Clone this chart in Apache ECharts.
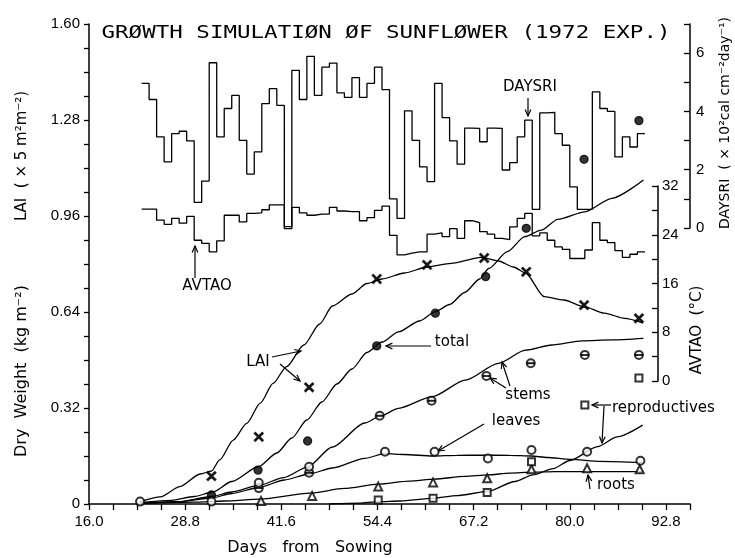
<!DOCTYPE html>
<html>
<head>
<meta charset="utf-8">
<script src="https://cdn.jsdelivr.net/npm/echarts/dist/echarts.min.js"></script>
<style>
html, body { margin: 0; padding: 0; background: #fff; }
#chart { width: 735px; height: 558px; }
</style>
</head>
<body>
<div id="chart"></div>
<script>
// daily weather, first value is day 23
var weatherStartDay = 23;
var daysri = [4.96, 4.41, 3.13, 2.27, 3.24, 3.32, 2.99, 0.88, 1.61, 5.67,
              3.13, 4.10, 4.55, 3.01, 1.85, 2.61, 4.27, 4.78, 4.21, 0.05,
              5.41, 4.41, 5.89, 4.55, 5.52, 5.66, 4.64, 4.48, 5.16, 4.48,
              4.96, 5.52, 4.75, 1.00, 0.33, 4.02, 3.01, 2.10, 1.59, 4.96,
              3.79, 2.99, 2.19, 3.43, 3.42, 2.96, 3.43, 3.42, 1.99, 2.24,
              3.13, 3.70, 0.64, 3.95, 3.97, 3.24, 2.84, 1.41, 0.64, 0.64,
              4.67, 4.10, 4.00, 2.44, 3.13, 2.78, 3.24];
var avtao = [28.2, 28.2, 26.4, 25.7, 26.7, 25.9, 27.0, 23.1, 22.6, 21.2,
             23.0, 27.2, 27.2, 26.1, 27.5, 27.6, 28.1, 28.9, 28.9, 25.0,
             28.5, 27.6, 27.2, 27.4, 27.4, 28.5, 27.9, 27.8, 27.8, 26.3,
             26.8, 28.0, 28.7, 23.9, 20.7, 21.0, 21.2, 21.2, 24.1, 24.3,
             23.7, 25.0, 23.4, 26.3, 26.0, 24.5, 24.1, 23.4, 23.2, 25.3,
             26.7, 27.5, 23.8, 24.3, 23.1, 22.0, 21.6, 20.1, 20.1, 21.5,
             26.0, 23.1, 22.7, 21.4, 20.3, 20.8, 21.2];

// simulated curves
var laiDays = [22.8, 25.5, 28.1, 30.8, 32.3, 33.4, 35.2, 37.0, 38.8, 40.5, 42.3, 44.6, 46.7, 48.4, 51, 53, 55, 58, 61, 64.2, 68.2, 70.5, 72.5, 74.1, 76.6, 79.2, 81.9, 84.6, 87.3, 89.7];
var laiVals = [0.008, 0.024, 0.058, 0.10, 0.11, 0.147, 0.213, 0.269, 0.336, 0.402, 0.458, 0.53, 0.60, 0.66, 0.70, 0.735, 0.75, 0.77, 0.79, 0.802, 0.822, 0.81, 0.79, 0.77, 0.691, 0.68, 0.658, 0.636, 0.619, 0.604];
var totalDays = [22.8, 27, 30, 32.5, 35, 38.6, 41, 43, 45, 47, 49, 51, 53, 55, 57.2, 60, 62.1, 64, 66, 68, 69.2, 71.7, 74, 76.2, 78.4, 82, 85.6, 89.8];
var totalVals = [0.004, 0.012, 0.025, 0.04, 0.075, 0.125, 0.17, 0.22, 0.28, 0.34, 0.40, 0.45, 0.505, 0.54, 0.574, 0.61, 0.641, 0.665, 0.705, 0.75, 0.785, 0.841, 0.891, 0.913, 0.949, 0.974, 1.019, 1.08];
var stemDays = [22.8, 28, 32.3, 35, 38.6, 41.9, 45, 48.4, 52.7, 54.7, 57.2, 61.7, 66.1, 70.5, 74.1, 77.6, 81.6, 85.6, 89.8];
var stemVals = [0.002, 0.008, 0.025, 0.04, 0.062, 0.088, 0.122, 0.19, 0.27, 0.292, 0.319, 0.358, 0.413, 0.469, 0.513, 0.53, 0.544, 0.547, 0.552];
var leafDays = [22.8, 28, 32.3, 35, 38.6, 42, 45.3, 48.4, 52.7, 55.4, 58, 61.7, 65, 68.2, 72, 74.9, 77, 80.1, 84, 89.8];
var leafVals = [0.002, 0.008, 0.02, 0.035, 0.055, 0.08, 0.10, 0.12, 0.152, 0.168, 0.165, 0.16, 0.162, 0.163, 0.162, 0.16, 0.155, 0.149, 0.142, 0.138];
var rootDays = [22.8, 30, 34, 38.8, 45.4, 50, 54.5, 58.6, 62, 66, 69.1, 72, 75, 78, 82, 89.8];
var rootVals = [0.001, 0.006, 0.01, 0.016, 0.036, 0.052, 0.066, 0.076, 0.083, 0.092, 0.097, 0.103, 0.106, 0.108, 0.108, 0.108];
var reproDays = [48, 52, 54.5, 57.4, 61.8, 65, 69.1, 72.7, 75.1, 77.8, 80, 83.7, 86.3, 89.7];
var reproVals = [0, 0.003, 0.008, 0.01, 0.019, 0.028, 0.042, 0.075, 0.097, 0.118, 0.145, 0.191, 0.224, 0.263];

// observations [day, value]
var obsLai = [[32.3, 0.093], [38.6, 0.224], [45.3, 0.389], [54.3, 0.75], [61, 0.797], [68.6, 0.82], [74.2, 0.774], [81.9, 0.663], [89.2, 0.619]];
var obsTotal = [[32.3, 0.03], [38.5, 0.113], [45.1, 0.21], [54.3, 0.527], [62.1, 0.636], [68.8, 0.758], [74.2, 0.919], [81.9, 1.149], [89.2, 1.278]];
var obsStems = [[38.6, 0.053], [45.3, 0.104], [54.7, 0.294], [61.6, 0.344], [68.9, 0.427], [74.8, 0.469], [82, 0.497], [89.2, 0.497]];
var obsLeaves = [[22.8, 0.008], [32.3, 0.008], [38.6, 0.071], [45.3, 0.124], [55.4, 0.174], [62, 0.174], [69.1, 0.152], [74.9, 0.18], [82.3, 0.174], [89.4, 0.144]];
var obsRoots = [[38.9, 0.01], [45.7, 0.027], [54.5, 0.058], [61.8, 0.072], [69, 0.086], [74.9, 0.116], [82.3, 0.119], [89.3, 0.116]];
var obsRepro = [[54.5, 0.013], [61.8, 0.019], [69, 0.038], [74.9, 0.141], [82, 0.33], [89.2, 0.42]];

var dom = document.getElementById("chart");
var myChart = echarts.init(dom);

function pairs(days, vals) {
    return days.map(function (d, i) { return [d, vals[i]]; });
}
function steps(vals) {
    var out = vals.map(function (v, i) { return [weatherStartDay + i, v]; });
    out.push([weatherStartDay + vals.length, vals[vals.length - 1]]);
    return out;
}
function curve(data) {
    return { type: 'line', data: data, showSymbol: false, smooth: 0.25, smoothMonotone: 'x',
             lineStyle: { color: '#000', width: 1.3 }, z: 3 };
}
function obs(data, symbol, size) {
    return { type: 'scatter', data: data, symbol: symbol, symbolSize: size,
             itemStyle: { color: '#000', borderColor: '#000', borderWidth: 1.3 }, z: 5 };
}
function arrow(x1, y1, x2, y2) {
    var a = Math.atan2(y2 - y1, x2 - x1), h = 7, w = 0.42;
    return { type: 'group', children: [
        { type: 'line', shape: { x1: x1, y1: y1, x2: x2, y2: y2 }, style: { stroke: '#000', lineWidth: 1.2 } },
        { type: 'polyline', shape: { points: [[x2 - h * Math.cos(a - w), y2 - h * Math.sin(a - w)], [x2, y2],
                                              [x2 - h * Math.cos(a + w), y2 - h * Math.sin(a + w)]] },
          style: { stroke: '#000', fill: null, lineWidth: 1.2 } }
    ]};
}
function label(text, x, y, opts) {
    opts = opts || {};
    return { type: 'text', x: x, y: y, rotation: opts.rot || 0, scaleX: opts.sx || 1,
             style: { text: text, fill: '#000', font: (opts.size || 15) + 'px ' + (opts.family || '"DejaVu Sans"'),
                      align: opts.align || 'center', verticalAlign: 'middle' } };
}

var cross = 'path://M0,1.2L1.2,0L5,3.8L8.8,0L10,1.2L6.2,5L10,8.8L8.8,10L5,6.2L1.2,10L0,8.8L3.8,5Z';
var tickFont = { color: '#000', fontSize: 15, fontFamily: '"Liberation Sans"' };
var hiddenX = { type: 'value', min: 16, max: 96, show: false };

var stemsObs = obs(obsStems, 'emptyCircle', 8);
var stemsBar = obs(obsStems, 'rect', [6, 1.4]);
stemsBar.z = 6;

option = {
    animation: false,
    backgroundColor: '#fff',
    grid: [
        { left: 89, right: 45, top: 24, bottom: 54 },
        { left: 89, right: 45, top: 24, height: 204 },
        { left: 89, right: 45, top: 186, height: 195 }
    ],
    xAxis: [
        {
            type: 'value', gridIndex: 0, min: 16, max: 96, interval: 3.2,
            splitLine: { show: false },
            axisLine: { lineStyle: { color: '#000', width: 1.5 } },
            axisTick: { length: 6, lineStyle: { color: '#000', width: 1.3 } },
            axisLabel: Object.assign({ margin: 10, formatter: function (v) {
                var k = Math.round((v - 16) / 3.2);
                return k % 4 === 0 ? v.toFixed(1) : '';
            } }, tickFont)
        },
        Object.assign({ gridIndex: 1 }, hiddenX),
        Object.assign({ gridIndex: 2 }, hiddenX)
    ],
    yAxis: [
        {
            type: 'value', gridIndex: 0, min: 0, max: 1.6, interval: 0.08,
            splitLine: { show: false },
            axisLine: { show: true, lineStyle: { color: '#000', width: 1.5 } },
            axisTick: { show: true, length: 5, lineStyle: { color: '#000', width: 1.3 } },
            axisLabel: Object.assign({ margin: 9, formatter: function (v) {
                var k = Math.round(v / 0.08);
                if (k % 4 !== 0) return '';
                return k === 0 ? '0' : (k * 0.08).toFixed(2);
            } }, tickFont)
        },
        {
            type: 'value', gridIndex: 1, position: 'right', min: 0, max: 7, interval: 1,
            splitLine: { show: false },
            axisLine: { show: true, lineStyle: { color: '#000', width: 1.5 } },
            axisTick: { show: true, inside: true, length: 6, lineStyle: { color: '#000', width: 1.3 } },
            axisLabel: Object.assign({ margin: 6, formatter: function (v) {
                return v % 2 === 0 && v < 7 ? String(v) : '';
            } }, tickFont)
        },
        {
            type: 'value', gridIndex: 2, position: 'right', offset: -32, min: 0, max: 32, interval: 4,
            splitLine: { show: false },
            axisLine: { show: true, lineStyle: { color: '#000', width: 1.5 } },
            axisTick: { show: true, inside: true, length: 6, lineStyle: { color: '#000', width: 1.3 } },
            axisLabel: Object.assign({ margin: 4, formatter: function (v) {
                return v % 8 === 0 ? String(v) : '';
            } }, tickFont)
        }
    ],
    series: [
        Object.assign(curve(steps(daysri)), { xAxisIndex: 1, yAxisIndex: 1, step: 'end', smooth: false }),
        Object.assign(curve(steps(avtao)), { xAxisIndex: 2, yAxisIndex: 2, step: 'end', smooth: false }),
        curve(pairs(laiDays, laiVals)),
        curve(pairs(totalDays, totalVals)),
        curve(pairs(stemDays, stemVals)),
        curve(pairs(leafDays, leafVals)),
        curve(pairs(rootDays, rootVals)),
        curve(pairs(reproDays, reproVals)),
        obs(obsLai, cross, 9),
        obs(obsTotal, 'circle', 8),
        stemsObs,
        stemsBar,
        obs(obsLeaves, 'emptyCircle', 8),
        obs(obsRoots, 'emptyTriangle', 8),
        obs(obsRepro, 'emptyRect', 7)
    ],
    graphic: [
        label('GRØWTH SIMULATIØN ØF SUNFLØWER (1972 EXP.)', 386, 33, { size: 18, family: '"DejaVu Sans Mono"', sx: 1.25 }),
        label('LAI  ( × 5 m²m⁻²)', 22, 156, { rot: Math.PI / 2 }),
        label('Dry  Weight  (kg m⁻²)', 22, 371, { rot: Math.PI / 2, size: 16 }),
        label('DAYSRI  ( × 10²cal cm⁻²day⁻¹)', 725, 123, { rot: Math.PI / 2, size: 14 }),
        label('AVTAO  (°C)', 697, 330, { rot: Math.PI / 2 }),
        label('Days   from   Sowing', 310, 548, { size: 16 }),
        label('DAYSRI', 530, 87, { size: 15 }),
        arrow(528, 98, 528, 116),
        label('AVTAO', 207, 286, { size: 15 }),
        arrow(195, 278, 195, 246),
        label('LAI', 258, 362),
        arrow(272, 357, 301, 351),
        arrow(280, 364, 300, 381),
        label('total', 452, 342),
        arrow(431, 346, 386, 346),
        label('stems', 528, 395),
        arrow(510, 386, 502, 362),
        arrow(506, 388, 490, 378),
        label('leaves', 516, 421),
        arrow(484, 424, 438, 451),
        label('reproductives', 612, 408, { align: 'left' }),
        arrow(611, 405, 592, 405),
        arrow(604, 406, 602, 443),
        label('roots', 597, 485, { align: 'left' }),
        arrow(590, 489, 588, 475)
    ]
};

if (option && typeof option === "object") {
    myChart.setOption(option, true);
}
</script>
</body>
</html>
